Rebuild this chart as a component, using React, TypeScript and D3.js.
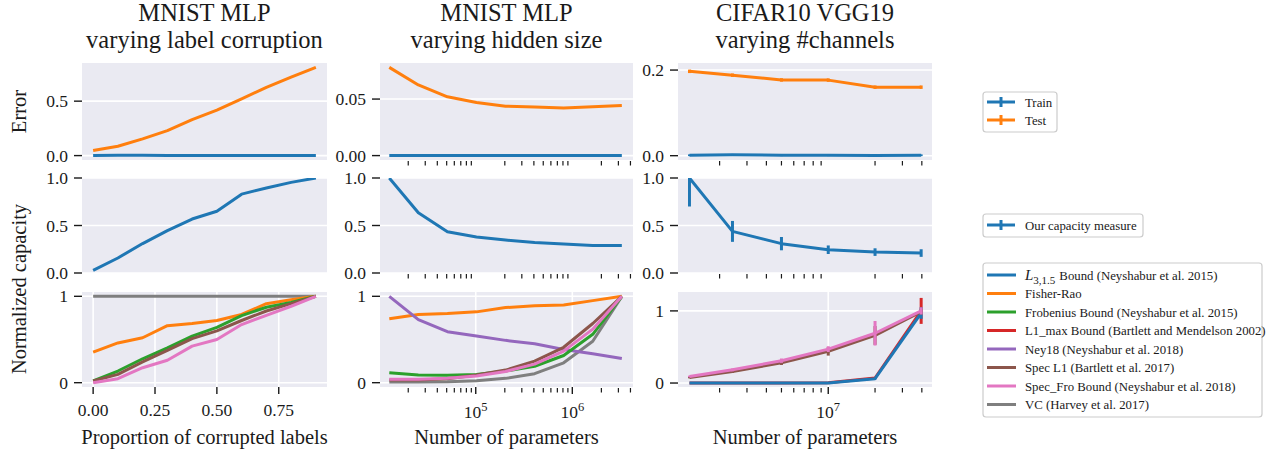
import React from 'react';
import * as d3 from 'd3';

const FONT = '"Liberation Serif", "Times New Roman", serif';
const INK = '#1a1a1a';
const BG = '#eaeaf2';

const colors: Record<string, string> = {
  l3: '#1f77b4', fisher: '#ff7f0e', frob: '#2ca02c', l1max: '#d62728',
  ney18: '#9467bd', specL1: '#8c564b', specFro: '#e377c2', vc: '#7f7f7f',
  train: '#1f77b4', test: '#ff7f0e', capacity: '#1f77b4',
};

// MNIST MLP, varying label corruption
const corruption = [0, 0.1, 0.2, 0.3, 0.4, 0.5, 0.6, 0.7, 0.8, 0.9];
const corrTrainErr = [0.0, 0.003, 0.002, 0.001, 0.0, 0.0, 0.0, 0.0, 0.0, 0.0];
const corrTestErr = [0.046, 0.086, 0.154, 0.23, 0.33, 0.417, 0.52, 0.627, 0.72, 0.81];
const corrCapacity = [0.028, 0.158, 0.31, 0.446, 0.568, 0.65, 0.83, 0.895, 0.954, 1.0];
const corrFisher = [0.354, 0.46, 0.52, 0.66, 0.685, 0.72, 0.79, 0.915, 0.96, 1.0];
const corrFrob = [0.02, 0.135, 0.277, 0.404, 0.54, 0.64, 0.777, 0.873, 0.93, 1.0];
const corrSpecL1 = [0.02, 0.096, 0.24, 0.373, 0.51, 0.6, 0.72, 0.83, 0.915, 1.0];
const corrSpecFro = [0.0, 0.046, 0.173, 0.26, 0.423, 0.5, 0.673, 0.78, 0.885, 1.0];
const corrVC = [1, 1, 1, 1, 1, 1, 1, 1, 1, 1];

// MNIST MLP, varying hidden size
const hiddenParams = [12730, 25450, 50890, 101770, 203530, 407050, 814090, 1628170, 3256330];
const hiddenTrainErr = [0, 0, 0, 0, 0, 0, 0, 0, 0];
const hiddenTestErr = [0.078, 0.0625, 0.052, 0.047, 0.0437, 0.0429, 0.0422, 0.0432, 0.0444];
const hiddenCapacity = [1.0, 0.635, 0.435, 0.38, 0.347, 0.32, 0.305, 0.29, 0.29];
const hiddenFisher = [0.74, 0.79, 0.8, 0.82, 0.87, 0.89, 0.9, 0.95, 1.0];
const hiddenNey18 = [1.0, 0.73, 0.59, 0.54, 0.49, 0.45, 0.385, 0.335, 0.28];
const hiddenFrob = [0.115, 0.09, 0.085, 0.096, 0.135, 0.19, 0.315, 0.56, 1.0];
const hiddenSpecL1 = [0.03, 0.03, 0.046, 0.09, 0.146, 0.25, 0.41, 0.685, 1.0];
const hiddenSpecFro = [0.04, 0.04, 0.05, 0.077, 0.13, 0.215, 0.365, 0.62, 1.0];
const hiddenVC = [0.008, 0.008, 0.01, 0.023, 0.05, 0.104, 0.23, 0.48, 1.0];

// CIFAR10 VGG19, varying #channels
const channelParams = [1.28e6, 2.42e6, 5.0e6, 1.0e7, 2.0e7, 3.96e7];
const channelTrainErr = [0.001, 0.002, 0.001, 0.001, 0.0005, 0.001];
const channelTrainErrBar = [0.002, 0.002, 0.002, 0.002, 0.002, 0.002];
const channelTestErr = [0.197, 0.188, 0.177, 0.1765, 0.16, 0.16];
const channelTestErrBar = [0.004, 0.004, 0.004, 0.004, 0.004, 0.004];
const channelCapacity = [1.0, 0.438, 0.309, 0.245, 0.22, 0.21];
const channelCapacityErr = [0.3, 0.11, 0.07, 0.045, 0.04, 0.04];
const channelL3 = [0, 0, 0, 0, 0.06, 0.97];
const channelL3Err = [0, 0, 0, 0, 0.01, 0.08];
const channelL1max = [0, 0, 0, 0.003, 0.07, 1.0];
const channelL1maxErr = [0, 0, 0, 0, 0.01, 0.18];
const channelSpecL1 = [0.075, 0.16, 0.28, 0.44, 0.66, 0.99];
const channelSpecL1Err = [0.01, 0.02, 0.03, 0.06, 0.13, 0.04];
const channelSpecFro = [0.092, 0.183, 0.31, 0.47, 0.69, 1.0];
const channelSpecFroErr = [0.01, 0.02, 0.03, 0.04, 0.17, 0.05];

const titles = [
  ['MNIST MLP', 'varying label corruption'],
  ['MNIST MLP', 'varying hidden size'],
  ['CIFAR10 VGG19', 'varying #channels'],
];
const xLabels = ['Proportion of corrupted labels', 'Number of parameters', 'Number of parameters'];
const corruptionTicks = [0, 0.25, 0.5, 0.75];

const legendBounds = [
  { key: 'l3', label: 'Bound (Neyshabur et al. 2015)' },
  { key: 'fisher', label: 'Fisher-Rao' },
  { key: 'frob', label: 'Frobenius Bound (Neyshabur et al. 2015)' },
  { key: 'l1max', label: 'L1_max Bound (Bartlett and Mendelson 2002)' },
  { key: 'ney18', label: 'Ney18 (Neyshabur et al. 2018)' },
  { key: 'specL1', label: 'Spec L1 (Bartlett et al. 2017)' },
  { key: 'specFro', label: 'Spec_Fro Bound (Neyshabur et al. 2018)' },
  { key: 'vc', label: 'VC (Harvey et al. 2017)' },
];

const cols = [{ left: 82, right: 327 }, { left: 380, right: 633 }, { left: 678, right: 932 }];
const rows = [{ top: 63, bottom: 160 }, { top: 178, bottom: 273 }, { top: 292, bottom: 387 }];

type Series = { key: string; xs: number[]; ys: number[]; err?: number[] };

const xScales: any[] = [
  d3.scaleLinear().domain([-0.045, 0.945]).range([cols[0].left, cols[0].right]),
  d3.scaleLog().domain([1.02e4, 4.25e6]).range([cols[1].left, cols[1].right]),
  d3.scaleLog().domain([1.08e6, 4.65e7]).range([cols[2].left, cols[2].right]),
];

const panels = [
  // row 0: error
  { c: 0, r: 0, dom: [-0.0405, 0.8505], ticks: [0, 0.5], fmt: '.1f', series: [
    { key: 'test', xs: corruption, ys: corrTestErr },
    { key: 'train', xs: corruption, ys: corrTrainErr },
  ] },
  { c: 1, r: 0, dom: [-0.0039, 0.0819], ticks: [0, 0.05], fmt: '.2f', series: [
    { key: 'test', xs: hiddenParams, ys: hiddenTestErr },
    { key: 'train', xs: hiddenParams, ys: hiddenTrainErr },
  ] },
  { c: 2, r: 0, dom: [-0.0101, 0.2165], ticks: [0, 0.2], fmt: '.1f', series: [
    { key: 'test', xs: channelParams, ys: channelTestErr, err: channelTestErrBar },
    { key: 'train', xs: channelParams, ys: channelTrainErr, err: channelTrainErrBar },
  ] },
  // row 1: our capacity
  { c: 0, r: 1, dom: [0, 1], ticks: [0, 0.5, 1], fmt: '.1f', series: [
    { key: 'capacity', xs: corruption, ys: corrCapacity },
  ] },
  { c: 1, r: 1, dom: [0, 1], ticks: [0, 0.5, 1], fmt: '.1f', series: [
    { key: 'capacity', xs: hiddenParams, ys: hiddenCapacity },
  ] },
  { c: 2, r: 1, dom: [0, 1], ticks: [0, 0.5, 1], fmt: '.1f', series: [
    { key: 'capacity', xs: channelParams, ys: channelCapacity, err: channelCapacityErr },
  ] },
  // row 2: bounds
  { c: 0, r: 2, dom: [-0.05, 1.05], ticks: [0, 1], fmt: 'd', series: [
    { key: 'vc', xs: corruption, ys: corrVC },
    { key: 'fisher', xs: corruption, ys: corrFisher },
    { key: 'frob', xs: corruption, ys: corrFrob },
    { key: 'specL1', xs: corruption, ys: corrSpecL1 },
    { key: 'specFro', xs: corruption, ys: corrSpecFro },
  ] },
  { c: 1, r: 2, dom: [-0.05, 1.05], ticks: [0, 1], fmt: 'd', series: [
    { key: 'vc', xs: hiddenParams, ys: hiddenVC },
    { key: 'fisher', xs: hiddenParams, ys: hiddenFisher },
    { key: 'ney18', xs: hiddenParams, ys: hiddenNey18 },
    { key: 'frob', xs: hiddenParams, ys: hiddenFrob },
    { key: 'specL1', xs: hiddenParams, ys: hiddenSpecL1 },
    { key: 'specFro', xs: hiddenParams, ys: hiddenSpecFro },
  ] },
  { c: 2, r: 2, dom: [-0.055, 1.262], ticks: [0, 1], fmt: 'd', series: [
    { key: 'l1max', xs: channelParams, ys: channelL1max, err: channelL1maxErr },
    { key: 'l3', xs: channelParams, ys: channelL3, err: channelL3Err },
    { key: 'specL1', xs: channelParams, ys: channelSpecL1, err: channelSpecL1Err },
    { key: 'specFro', xs: channelParams, ys: channelSpecFro, err: channelSpecFroErr },
  ] },
];

function Panel({ p }: { p: any }) {
  const col = cols[p.c], row = rows[p.r];
  const x = xScales[p.c];
  const y = d3.scaleLinear().domain(p.dom).range([row.bottom, row.top]);
  const id = `clip-${p.c}-${p.r}`;
  const line = d3.line<number>();
  const fmt = d3.format(p.fmt);
  const isLog = p.c > 0;
  const allTicks: number[] = isLog ? x.ticks() : corruptionTicks;
  const major = isLog ? allTicks.filter((t) => Math.abs(Math.log10(t) - Math.round(Math.log10(t))) < 1e-9) : allTicks;
  const minor = isLog ? allTicks.filter((t) => !major.includes(t)) : [];
  const last = p.r === 2;
  return (
    <g>
      <defs>
        <clipPath id={id}>
          <rect x={col.left} y={row.top} width={col.right - col.left} height={row.bottom - row.top} />
        </clipPath>
      </defs>
      <rect x={col.left} y={row.top} width={col.right - col.left} height={row.bottom - row.top} fill={BG} />
      {p.ticks.map((t: number) => (
        <line key={'g' + t} x1={col.left} x2={col.right} y1={y(t)} y2={y(t)} stroke="#fff" strokeWidth={1.6} />
      ))}
      {last && major.map((t: number) => (
        <line key={'v' + t} x1={x(t)} x2={x(t)} y1={row.top} y2={row.bottom} stroke="#fff" strokeWidth={1.6} />
      ))}
      <g clipPath={`url(#${id})`}>
        {p.series.map((s: Series) => (
          <g key={s.key}>
            <path
              d={line.x((_, i) => x(s.xs[i])).y((v) => y(v))(s.ys) || ''}
              fill="none" stroke={colors[s.key]} strokeWidth={3} strokeLinejoin="round"
            />
            {s.err && s.err.map((e, i) => e > 0 ? (
              <line key={i} x1={x(s.xs[i])} x2={x(s.xs[i])} y1={y(s.ys[i] - e)} y2={y(s.ys[i] + e)}
                stroke={colors[s.key]} strokeWidth={3} />
            ) : null)}
          </g>
        ))}
      </g>
      {p.ticks.map((t: number) => (
        <g key={'yt' + t}>
          <line x1={col.left - 8} x2={col.left} y1={y(t)} y2={y(t)} stroke={INK} strokeWidth={1.4} />
          <text x={col.left - 14} y={y(t) + 6} textAnchor="end" fontSize={17.5} fill={INK}>{fmt(t)}</text>
        </g>
      ))}
      {minor.map((t: number) => (
        <line key={'mn' + t} x1={x(t)} x2={x(t)} y1={row.bottom + 1} y2={row.bottom + 5.5} stroke={INK} strokeWidth={1.2} />
      ))}
      {last && major.map((t: number) => (
        <g key={'xt' + t}>
          <line x1={x(t)} x2={x(t)} y1={row.bottom} y2={row.bottom + 7} stroke={INK} strokeWidth={1.4} />
          {isLog ? (
            <text x={x(t)} y={418} textAnchor="middle" fontSize={17.5} fill={INK}>
              10<tspan dy={-7} fontSize={12.5}>{Math.round(Math.log10(t))}</tspan>
            </text>
          ) : (
            <text x={x(t)} y={416} textAnchor="middle" fontSize={17.5} fill={INK}>{d3.format('.2f')(t)}</text>
          )}
        </g>
      ))}
    </g>
  );
}

function ErrHandle({ x, y, color }: { x: number; y: number; color: string }) {
  return (
    <g>
      <line x1={x} x2={x + 28} y1={y} y2={y} stroke={color} strokeWidth={3} />
      <line x1={x + 14} x2={x + 14} y1={y - 5} y2={y + 5} stroke={color} strokeWidth={3} />
    </g>
  );
}

export default function App() {
  const legFs = 12.8;
  return (
    <div style={{ position: 'fixed', left: 0, top: 0, fontFamily: FONT }}>
      <svg width={1281} height={453} style={{ display: 'block', background: '#fff', fontFamily: FONT }}>
        {titles.map((t, i) => {
          const cx = (cols[i].left + cols[i].right) / 2;
          return (
            <g key={'t' + i}>
              <text x={cx} y={21} textAnchor="middle" fontSize={24.5} fill={INK}>{t[0]}</text>
              <text x={cx} y={48.3} textAnchor="middle" fontSize={24.5} fill={INK}>{t[1]}</text>
            </g>
          );
        })}
        {panels.map((p) => <Panel key={`${p.c}-${p.r}`} p={p} />)}
        {xLabels.map((l, i) => (
          <text key={'xl' + i} x={(cols[i].left + cols[i].right) / 2} y={444} textAnchor="middle" fontSize={20.5} fill={INK}>{l}</text>
        ))}
        <text transform={`translate(26,${(rows[0].top + rows[0].bottom) / 2}) rotate(-90)`} textAnchor="middle" fontSize={20.5} fill={INK}>Error</text>
        <text transform="translate(26,289) rotate(-90)" textAnchor="middle" fontSize={20.5} fill={INK}>Normalized capacity</text>

        {/* legend: train / test */}
        <rect x={983} y={92} width={74} height={40} rx={3} fill="#fff" stroke="#cccccc" strokeWidth={1.2} />
        <ErrHandle x={987} y={102} color={colors.train} />
        <text x={1025} y={106.5} fontSize={legFs} fill={INK}>Train</text>
        <ErrHandle x={987} y={120} color={colors.test} />
        <text x={1025} y={124.5} fontSize={legFs} fill={INK}>Test</text>

        {/* legend: capacity */}
        <rect x={983} y={214} width={160} height={23} rx={3} fill="#fff" stroke="#cccccc" strokeWidth={1.2} />
        <ErrHandle x={987} y={225} color={colors.capacity} />
        <text x={1025} y={229.5} fontSize={legFs} fill={INK}>Our capacity measure</text>

        {/* legend: bounds */}
        <rect x={983} y={263} width={279} height={154} rx={3} fill="#fff" stroke="#cccccc" strokeWidth={1.2} />
        {legendBounds.map((b, i) => {
          const cy = 275 + i * 18.5;
          return (
            <g key={b.key}>
              <line x1={987} x2={1016} y1={cy} y2={cy} stroke={colors[b.key]} strokeWidth={3} />
              {b.key === 'l3' ? (
                <text x={1025} y={cy + 4.5} fontSize={legFs} fill={INK}>
                  <tspan fontStyle="italic" fontSize={15}>L</tspan>
                  <tspan fontSize={11} dy={4}>3,1.5</tspan>
                  <tspan dy={-4} dx={4}>{b.label}</tspan>
                </text>
              ) : (
                <text x={1025} y={cy + 4.5} fontSize={legFs} fill={INK}>{b.label}</text>
              )}
            </g>
          );
        })}
      </svg>
    </div>
  );
}
